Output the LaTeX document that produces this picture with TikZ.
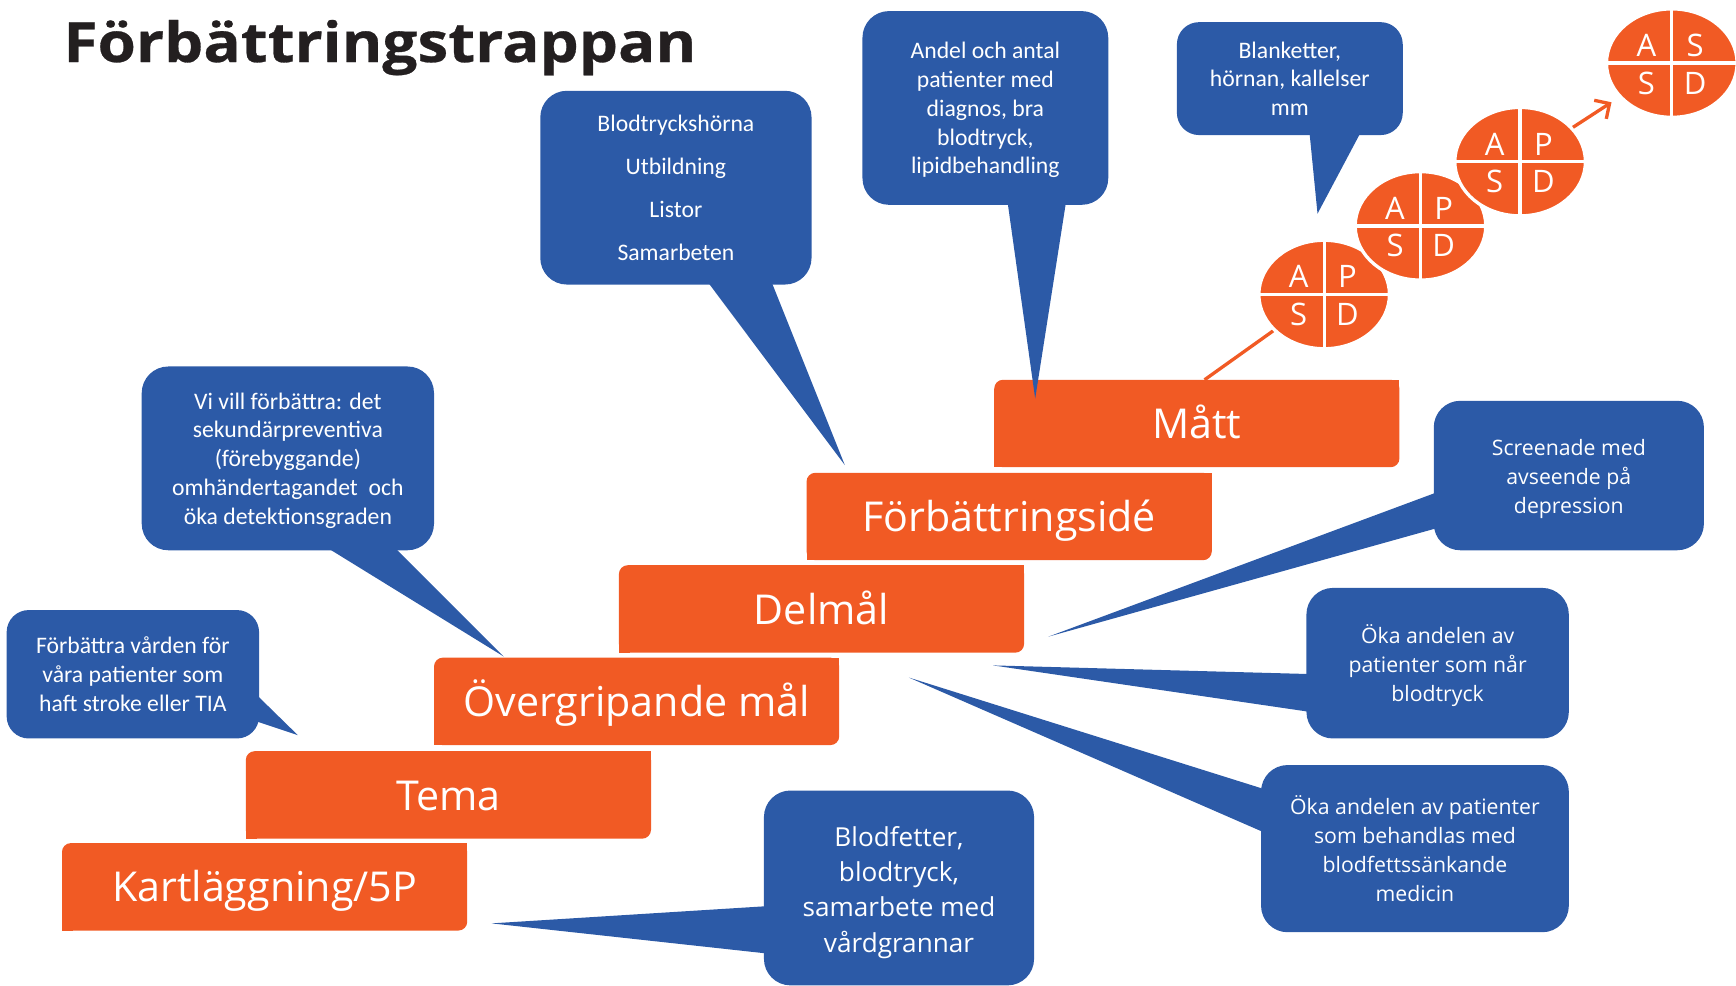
\documentclass[tikz,border=0pt]{standalone}
\usepackage{fontspec}
\setmainfont{Open Sans}
\newfontfamily\calfont{Carlito}
\newfontfamily\titlefont[BoldFeatures={FakeStretch=1.12,FakeBold=0.5}]{Open Sans}
\usetikzlibrary{arrows.meta,shapes.geometric,calc}
\definecolor{stepor}{RGB}{241,90,36}
\definecolor{cblue}{RGB}{44,90,167}
\definecolor{titlek}{RGB}{35,31,32}
\begin{document}
\begin{tikzpicture}[x={(0.5pt,0)},y={(0,-0.5pt)},
  stepbox/.style={fill=stepor, text=white, rounded corners=4pt, minimum width=183pt, minimum height=39.5pt, inner sep=0pt, outer sep=0pt,
    font=\fontsize{18.6}{22}\selectfont, text height=13.6pt, text depth=0pt},
  callout/.style={fill=cblue, rounded corners=12pt, inner sep=0pt, outer sep=0pt},
  ctxt/.style={text=white, align=center, inner sep=0pt},
  calt/.style={font=\calfont\fontsize{10.7}{13}\selectfont},
  segt/.style={font=\fontsize{9.6}{13}\selectfont},
  pdsa/.style={ellipse, fill=stepor, draw=white, line width=1.5pt, minimum width=59pt, minimum height=49pt, inner sep=0pt},
  pl/.style={text=white, font=\fontsize{14}{14}\selectfont, inner sep=0pt, text height=10pt, text depth=0pt},
  oline/.style={draw=stepor, line width=1.5pt},
  tail/.style={fill=cblue}]
\useasboundingbox (0,0) rectangle (1568,890);

% title
\node[anchor=base west, inner sep=0pt, text=titlek, font=\titlefont\bfseries\fontsize{25}{25}\selectfont] (title) at (57,56) {Förbättringstrappan};

% steps
\node[stepbox] (s1) at (239,801) {Kartläggning/5P};
\node[stepbox] (s2) at (405,718) {Tema};
\node[stepbox] (s3) at (575,633.5) {Övergripande mål};
\node[stepbox] (s4) at (742,550) {Delmål};
\node[stepbox] (s5) at (911.5,466.5) {Förbättringsidé};
\node[stepbox] (s6) at (1081,382.5) {Mått};
\foreach \s in {s1,s2,s3,s4,s5,s6}{
  \fill[stepor] (\s.north east) rectangle ++(-10,10);
  \fill[stepor] (\s.south west) rectangle ++(10,-10);
}

% PDSA circles
\coordinate (mstart) at (1088,343);
\node[pdsa] (p1) at (1196,266) {};
\draw[oline] (mstart) -- (p1);
\node[pdsa] (p1) at (1196,266) {};
\node[pdsa] (p2) at (1283,204) {};
\node[pdsa] (p3) at (1373,146) {};
\node[pdsa] (p4) at (1510,57) {};
\foreach \p/\a/\b/\c/\d in {p1/A/P/S/D,p2/A/P/S/D,p3/A/P/S/D,p4/A/S/S/D}{
  \draw[white, line width=1.5pt] (\p.north) -- (\p.south) (\p.west) -- (\p.east);
  \node[pl] at ($(\p.center)+(-23,-16)$) {\a};
  \node[pl] at ($(\p.center)+(21,-16)$) {\b};
  \node[pl] at ($(\p.center)+(-23,18)$) {\c};
  \node[pl] at ($(\p.center)+(21,18)$) {\d};
}
\draw[oline, -{Straight Barb[length=5pt,width=10pt]}, shorten >=4pt] (p3) -- (p4);

% callout tip coordinates
\coordinate (tA) at (763,420);
\coordinate (tB) at (935,360);
\coordinate (tC) at (1190,193);
\coordinate (tD) at (455,593);
\coordinate (tE) at (269,664);
\coordinate (tF) at (444,834);
\coordinate (tG) at (947,575);
\coordinate (tH) at (897,601);
\coordinate (tI) at (821,612);

% callouts
\node[callout, minimum width=122.5pt, minimum height=87.5pt,
  label={[ctxt, font=\calfont\fontsize{10.7}{19.5}\selectfont]center:{Blodtryckshörna\\Utbildning\\Listor\\Samarbeten}}] (cA) at (610.5,169.5) {};
\fill[tail] (632,245) -- (tA) -- (693,245) -- cycle;

\node[callout, minimum width=111pt, minimum height=87.5pt,
  label={[ctxt, calt, yshift=-1pt]center:{Andel och antal\\patienter med\\diagnos, bra\\blodtryck,\\lipidbehandling}}] (cB) at (890,97.5) {};
\fill[tail] (909,175) -- (tB) -- (964,175) -- cycle;

\node[callout, minimum width=102pt, minimum height=51pt, rounded corners=10pt,
  label={[ctxt, calt]center:{Blanketter,\\hörnan, kallelser\\mm}}] (cC) at (1165,71) {};
\fill[tail] (1182,112) -- (tC) -- (1233,112) -- cycle;

\node[callout, minimum width=132pt, minimum height=83pt,
  label={[ctxt, calt, yshift=-1pt]center:{Vi vill förbättra: det\\sekundärpreventiva\\(förebyggande)\\omhändertagandet\ \ och\\öka detektionsgraden}}] (cD) at (260,414) {};
\fill[tail] (283,487) -- (tD) -- (349,487) -- cycle;

\node[callout, minimum width=114pt, minimum height=58pt, rounded corners=10pt,
  label={[ctxt, calt]center:{Förbättra vården för\\våra patienter som\\haft stroke eller TIA}}] (cE) at (120,609) {};
\fill[tail] (224,620) -- (tE) -- (224,649) -- cycle;

\node[callout, minimum width=122pt, minimum height=88pt,
  label={[ctxt, font=\fontsize{11.8}{16}\selectfont, yshift=-2pt]center:{Blodfetter,\\blodtryck,\\samarbete med\\vårdgrannar}}] (cF) at (812,802) {};
\fill[tail] (700,818) -- (tF) -- (700,862) -- cycle;

\node[callout, minimum width=122pt, minimum height=67.5pt,
  label={[ctxt, segt, yshift=-1.5pt]center:{Screenade med\\avseende på\\depression}}] (cG) at (1417,429.5) {};
\fill[tail] (1305,442) -- (tG) -- (1305,475) -- cycle;

\node[callout, minimum width=118.5pt, minimum height=68pt,
  label={[ctxt, segt, yshift=-1pt]center:{Öka andelen av\\patienter som når\\blodtryck}}] (cH) at (1298.5,599) {};
\fill[tail] (1190,609) -- (tH) -- (1190,644) -- cycle;

\node[callout, minimum width=139pt, minimum height=75.5pt,
  label={[ctxt, segt]center:{Öka andelen av patienter\\som behandlas med\\blodfettssänkande\\medicin}}] (cI) at (1278,766.5) {};
\fill[tail] (1149,715) -- (tI) -- (1149,755) -- cycle;
\end{tikzpicture}
\end{document}
